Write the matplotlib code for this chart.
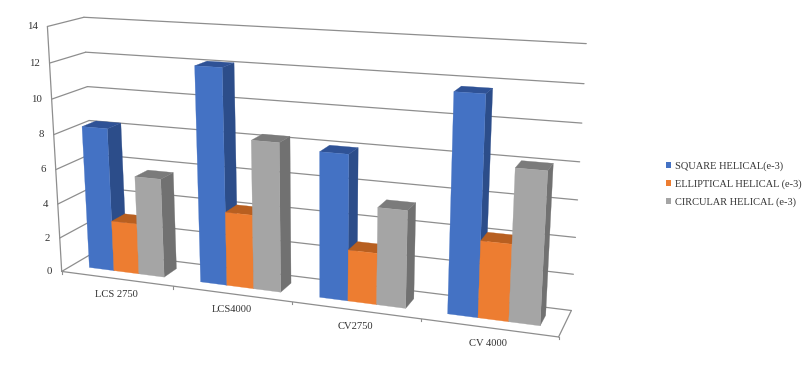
import numpy as np
import matplotlib
matplotlib.use("Agg")
import matplotlib.pyplot as plt
from matplotlib.patches import Polygon, Patch

categories = ["LCS 2750", "LCS4000", "CV2750", "CV 4000"]
square = [8.3, 12.15, 8.05, 11.7]
elliptical = [2.95, 4.2, 2.85, 4.15]
circular = [5.7, 8.35, 5.35, 8.1]
series_names = ["SQUARE HELICAL(e-3)", "ELLIPTICAL HELICAL (e-3)", "CIRCULAR HELICAL (e-3)"]
y_ticks = [0, 2, 4, 6, 8, 10, 12, 14]

front = {"c": ["#4472C4", "#ED7D31", "#A5A5A5"],
         "t": ["#2F5296", "#B85F20", "#7B7B7B"],
         "s": ["#2C4D8A", "#A9561D", "#717171"]}
GRID = "#8E8E8E"
SERIF = "Liberation Serif"

# Perspective camera, calibrated on the wall/floor corners of the chart frame
calib = [
    ((0, 14, 0), (47.3, 26.7)), ((0, 12, 0), (50, 62.7)), ((0, 10, 0), (51.5, 98.7)),
    ((0, 8, 0), (54, 134)), ((0, 6, 0), (56, 169.3)), ((0, 4, 0), (58, 203)),
    ((0, 2, 0), (60, 237.7)), ((0, 0, 0), (61.5, 271.3)),
    ((0, 14, 1), (83.3, 17.3)), ((0, 12, 1), (85.5, 52.3)), ((0, 10, 1), (87.3, 86.7)),
    ((0, 8, 1), (89.3, 121.7)),
    ((4, 14, 1), (586.7, 44)), ((4, 12, 1), (584, 84)), ((4, 10, 1), (581.7, 123.3)),
    ((4, 8, 1), (579.3, 161.7)), ((4, 6, 1), (577.7, 199.7)), ((4, 4, 1), (575.7, 237)),
    ((4, 2, 1), (573.6, 273.7)), ((4, 0, 1), (571.7, 309.3)),
    ((1, 0, 0), (173.3, 287)), ((2, 0, 0), (291.7, 303.7)), ((3, 0, 0), (420, 319.3)),
    ((4, 0, 0), (558.3, 337)),
]
rows = []
for (X, Y, Z), (u, v) in calib:
    rows.append([X, Y, Z, 1, 0, 0, 0, 0, -u * X, -u * Y, -u * Z, -u])
    rows.append([0, 0, 0, 0, X, Y, Z, 1, -v * X, -v * Y, -v * Z, -v])
P = np.linalg.svd(np.array(rows, float))[2][-1].reshape(3, 4)


def proj(x, y, z):
    h = P @ np.array([x, y, z, 1.0])
    return h[0] / h[2], h[1] / h[2]


fig = plt.figure(figsize=(8.11, 3.74), dpi=100)
ax = fig.add_axes([0, 0, 1, 1])
ax.set_xlim(0, 811)
ax.set_ylim(374, 0)
ax.axis("off")


def line(a, b, lw=0.9, color=GRID, z=1):
    p, q = proj(*a), proj(*b)
    ax.plot([p[0], q[0]], [p[1], q[1]], color=color, lw=lw, zorder=z, solid_capstyle="round")


for v in y_ticks:
    line((0, v, 0), (0, v, 1))
    line((0, v, 1), (4, v, 1))
    p = proj(0, v, 0)
    ax.text(p[0] - 9.5, p[1], str(v), ha="right", va="center", fontsize=7.8,
            family=SERIF, color="#333333")
line((0, 0, 0), (0, 14, 0))
line((0, 0, 0), (4, 0, 0))
line((4, 0, 0), (4, 0, 1))
for k in range(5):
    p = proj(k, 0, 0)
    ax.plot([p[0], p[0]], [p[1], p[1] + 2.5], color=GRID, lw=0.8, zorder=1)
for k, name in enumerate(categories):
    p = proj(k + 0.5, 0, 0)
    ax.text(p[0], p[1] + 16, name, ha="center", va="center", fontsize=7.6,
            family=SERIF, color="#333333")

MARGIN, WIDTH, Z0, Z1 = 0.16, 0.2267, 0.30, 0.70
values = [square, elliptical, circular]
zo = 2
for k in range(len(categories)):
    for s in range(3):
        x0 = k + MARGIN + s * WIDTH
        x1 = x0 + WIDTH
        h = values[s][k]
        ax.add_patch(Polygon([proj(x1, 0, Z0), proj(x1, 0, Z1), proj(x1, h, Z1), proj(x1, h, Z0)],
                             fc=front["s"][s], ec=front["s"][s], lw=0.2, zorder=zo))
        ax.add_patch(Polygon([proj(x0, h, Z0), proj(x1, h, Z0), proj(x1, h, Z1), proj(x0, h, Z1)],
                             fc=front["t"][s], ec=front["t"][s], lw=0.2, zorder=zo))
        ax.add_patch(Polygon([proj(x0, 0, Z0), proj(x1, 0, Z0), proj(x1, h, Z0), proj(x0, h, Z0)],
                             fc=front["c"][s], ec=front["c"][s], lw=0.2, zorder=zo))
        zo += 1

handles = [Patch(fc=c, ec="none", label=n) for c, n in zip(front["c"], series_names)]
ax.legend(handles=handles, loc="center left", bbox_to_anchor=(665.5 / 811, 1 - 184 / 374),
          frameon=False, prop={"family": SERIF, "size": 7.45},
          handlelength=0.5, handleheight=0.5, handletextpad=0.4, labelspacing=0.8,
          borderaxespad=0, borderpad=0, labelcolor="#333333")
fig.savefig("out.png", dpi=100)
